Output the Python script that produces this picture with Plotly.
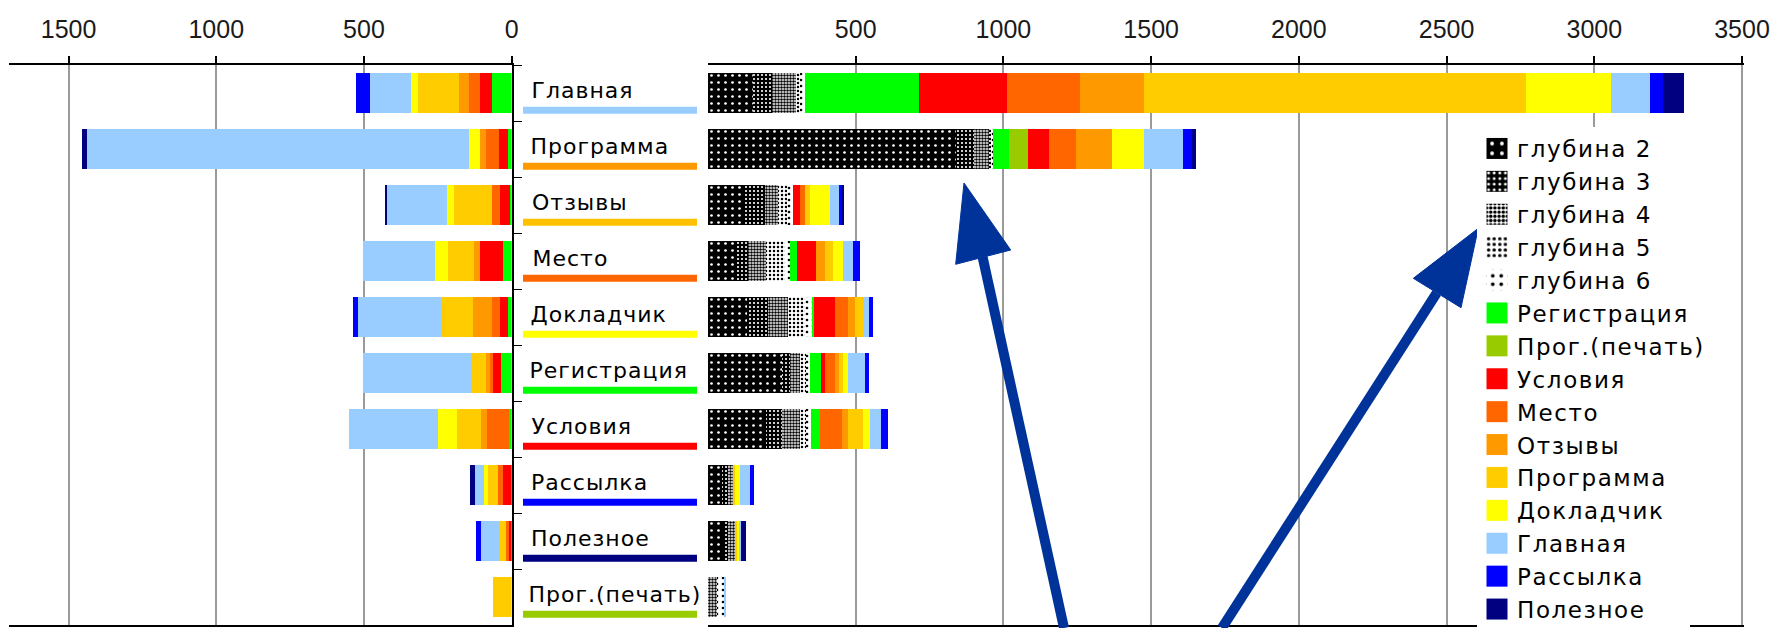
import plotly.graph_objects as go

W, H = 1774, 628

pages = ["Главная", "Программа", "Отзывы", "Место", "Докладчик",
         "Регистрация", "Условия", "Рассылка", "Полезное", "Прог.(печать)"]

series_names = ["Регистрация", "Прог.(печать)", "Условия", "Место", "Отзывы",
                "Программа", "Докладчик", "Главная", "Рассылка", "Полезное"]
series_colors = ["#00ff00", "#99cc00", "#ff0000", "#ff6600", "#ff9900",
                 "#ffcc00", "#ffff00", "#99ccff", "#0000ff", "#000080"]
underline_colors = ["#99ccff", "#ff9900", "#ffc000", "#ff6600", "#ffff00",
                    "#00ff00", "#ff0000", "#0000ff", "#000080", "#99cc00"]

# incoming transitions (left panel), one value per page in `pages`
in_registration = [67, 12, 5, 30, 13, 37, 8, 0, 0, 0]
in_print        = [0, 0, 0, 0, 0, 0, 0, 0, 0, 0]
in_conditions   = [42, 30, 34, 79, 26, 25, 0, 28, 9, 0]
in_place        = [36, 45, 28, 0, 28, 10, 76, 17, 10, 0]
in_reviews      = [33, 20, 0, 20, 65, 15, 20, 0, 0, 0]
in_program      = [138, 0, 128, 85, 105, 48, 81, 34, 19, 62]
in_speaker      = [26, 38, 25, 45, 0, 0, 65, 14, 0, 0]
in_main         = [137, 1291, 202, 246, 284, 370, 302, 32, 65, 0]
in_mailing      = [48, 0, 0, 0, 15, 0, 0, 0, 17, 0]
in_useful       = [0, 17, 7, 0, 0, 0, 0, 15, 0, 0]

# outgoing transitions (right panel): exits by depth, then next page
depth2 = [152, 841, 125, 91, 131, 249, 198, 46, 51, 0]
depth3 = [64, 61, 68, 44, 72, 28, 51, 22, 17, 0]
depth4 = [81, 52, 43, 63, 67, 34, 62, 16, 23, 29]
depth5 = [15, 5, 30, 62, 58, 20, 22, 0, 0, 0]
depth6 = [16, 4, 22, 17, 27, 14, 17, 0, 0, 28]
out_registration = [387, 56, 0, 23, 5, 39, 28, 0, 0, 0]
out_print        = [0, 64, 0, 0, 0, 0, 0, 0, 0, 0]
out_conditions   = [297, 72, 23, 67, 71, 11, 0, 0, 0, 0]
out_place        = [248, 90, 17, 0, 42, 34, 74, 0, 0, 0]
out_reviews      = [215, 123, 0, 28, 24, 14, 21, 0, 0, 0]
out_program      = [1295, 0, 17, 28, 27, 13, 51, 7, 10, 0]
out_speaker      = [286, 107, 67, 33, 0, 17, 23, 17, 5, 0]
out_main         = [133, 133, 34, 34, 20, 57, 40, 34, 5, 5]
out_mailing      = [44, 30, 6, 26, 13, 14, 21, 13, 0, 0]
out_useful       = [70, 14, 7, 0, 0, 0, 0, 0, 16, 0]

left_ticks = [0, 500, 1000, 1500]
right_ticks = [500, 1000, 1500, 2000, 2500, 3000, 3500]

depth_names = ["глубина 2", "глубина 3", "глубина 4", "глубина 5", "глубина 6"]
depth_patterns = [
    dict(shape=".", bgcolor="#000000", fgcolor="#ffffff", size=7, solidity=0.12),
    dict(shape=".", bgcolor="#000000", fgcolor="#ffffff", size=4, solidity=0.22),
    dict(shape=".", bgcolor="#ffffff", fgcolor="#000000", size=3, solidity=0.55),
    dict(shape=".", bgcolor="#ffffff", fgcolor="#000000", size=4, solidity=0.3),
    dict(shape=".", bgcolor="#ffffff", fgcolor="#000000", size=6, solidity=0.15),
]

incoming = [in_registration, in_print, in_conditions, in_place, in_reviews,
            in_program, in_speaker, in_main, in_mailing, in_useful]
outgoing = [out_registration, out_print, out_conditions, out_place, out_reviews,
            out_program, out_speaker, out_main, out_mailing, out_useful]
depths = [depth2, depth3, depth4, depth5, depth6]

fig = go.Figure()

for name, color, vals in zip(series_names, series_colors, incoming):
    fig.add_trace(go.Bar(y=pages, x=vals, orientation="h", name=name,
                         marker=dict(color=color, line=dict(width=0)),
                         xaxis="x", yaxis="y", showlegend=False,
                         legendgroup=name))

for name, pat, vals in zip(depth_names, depth_patterns, depths):
    fig.add_trace(go.Bar(y=pages, x=vals, orientation="h", name=name,
                         marker=dict(color=pat["bgcolor"], pattern=dict(fillmode="replace", **pat),
                                     line=dict(width=0)),
                         xaxis="x2", yaxis="y"))

for name, color, vals in zip(series_names, series_colors, outgoing):
    fig.add_trace(go.Bar(y=pages, x=vals, orientation="h", name=name,
                         marker=dict(color=color, line=dict(width=0)),
                         xaxis="x2", yaxis="y", legendgroup=name))

def px(x):
    return x / W

def py(y):
    return 1 - y / H

y_top, y_bot = 65, 625
left_zero, right_zero, right_end = 511.7, 708, 1742
ppu = (right_end - right_zero) / 3500
left_start = left_zero - 1700 * ppu
right_max = 3506  # keeps the 3500 grid line just inside the frame

tick_font = dict(family="Liberation Sans Narrow, Liberation Sans, Arial, sans-serif",
                 size=25, color="#1a1a1a")

axis_common = dict(side="top", showline=True, linecolor="#000000", linewidth=2,
                   mirror=True, ticks="outside", ticklen=7, tickwidth=1.5,
                   tickcolor="#000000", showgrid=True, gridcolor="#9a9a9a",
                   gridwidth=1.5, zeroline=False, tickfont=tick_font,
                   ticklabelstandoff=8, ticklabeloverflow="allow",
                   fixedrange=True, automargin=False)

fig.update_layout(
    width=W, height=H, autosize=False,
    margin=dict(l=0, r=0, t=0, b=0, pad=0, autoexpand=False),
    paper_bgcolor="#ffffff", plot_bgcolor="#ffffff",
    barmode="stack", bargap=0.28,
    font=dict(family="DejaVu Sans, sans-serif", color="#000000"),
    xaxis=dict(domain=[px(left_start), px(left_zero)], range=[1700, 0],
               tickvals=left_ticks, anchor="y", **axis_common),
    xaxis2=dict(domain=[px(right_zero), px(right_zero + right_max * ppu)],
                range=[0, right_max], tickvals=right_ticks, anchor="y",
                **axis_common),
    yaxis=dict(domain=[py(y_bot), py(y_top)], type="category",
               categoryorder="array", categoryarray=pages,
               autorange="reversed", anchor="x", side="right",
               showline=True, linecolor="#000000", linewidth=2,
               ticks="outside", tickson="boundaries", ticklen=8,
               tickcolor="#000000", showticklabels=False, showgrid=False,
               zeroline=False, fixedrange=True, automargin=False),
    legend=dict(x=px(1477), y=py(127), xanchor="left", yanchor="top",
                bgcolor="#ffffff", borderwidth=0, traceorder="normal",
                tracegroupgap=0, itemwidth=30,
                font=dict(family="DejaVu Sans, sans-serif", size=23, color="#000000")),
    showlegend=True,
)

# page names between the panels, each with a coloured underline
for i, (page, ucol) in enumerate(zip(pages, underline_colors)):
    fig.add_annotation(x=px(533), xref="paper", y=page, yref="y",
                       text=page, showarrow=False, xanchor="left",
                       yanchor="middle", yshift=3,
                       font=dict(family="DejaVu Sans, sans-serif", size=22, color="#000000"))
    fig.add_shape(type="line", xref="paper", yref="y",
                  x0=px(523), x1=px(697), y0=i + 0.31, y1=i + 0.31,
                  line=dict(color=ucol, width=7), layer="above")

# two pointer arrows rising from the bottom edge
arrow_color = "#003399"
arrows = [
    dict(tail=(1064, 628), base=(982.6, 257), tip=(964, 183),
         barb_a=(955.7, 264.3), barb_b=(1010.7, 250)),
    dict(tail=(1222, 628), base=(1436.7, 293), tip=(1478.3, 228.3),
         barb_a=(1413.3, 278.3), barb_b=(1461, 307.7)),
]
for a in arrows:
    fig.add_shape(type="line", xref="paper", yref="paper",
                  x0=px(a["tail"][0]), y0=py(a["tail"][1]),
                  x1=px(a["base"][0]), y1=py(a["base"][1]),
                  line=dict(color=arrow_color, width=10), layer="above")
    pts = [a["tip"], a["barb_a"], a["barb_b"]]
    path = "M {} {} L {} {} L {} {} Z".format(
        *[v for p in pts for v in (px(p[0]), py(p[1]))])
    fig.add_shape(type="path", xref="paper", yref="paper", path=path,
                  fillcolor=arrow_color, line=dict(color=arrow_color, width=1),
                  layer="above")

# page chrome: no body margin, larger legend swatches, wider text tracking
post_js = """
document.body.style.margin = '0';
document.body.style.overflow = 'hidden';
var gd = document.getElementById('{plot_id}');
gd.querySelectorAll('.legend .scrollbox').forEach(function (s) {
    s.removeAttribute('clip-path');
});
gd.querySelectorAll('.legendpoints path').forEach(function (p) {
    var t = p.getAttribute('transform') || '';
    p.setAttribute('transform', t + ' scale(1.75)');
});
gd.querySelectorAll('.legendtext').forEach(function (t) {
    t.style.letterSpacing = '1.6px';
});
gd.querySelectorAll('.annotation-text').forEach(function (t) {
    t.style.letterSpacing = '1px';
});
"""

fig.write_html("out.html", post_script=post_js)
